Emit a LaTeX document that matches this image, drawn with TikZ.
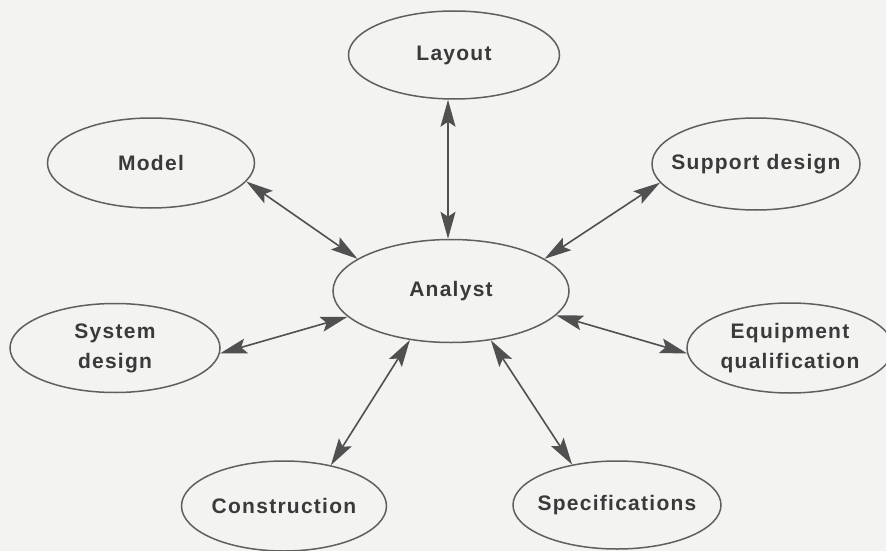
\documentclass[tikz,border=0pt]{standalone}
\usepackage{fontspec}
\setmainfont{Liberation Sans}[LetterSpace=6]
\usetikzlibrary{shapes.geometric,arrows.meta}
\definecolor{bgc}{RGB}{243,243,241}
\definecolor{edgec}{RGB}{95,95,95}
\definecolor{txtc}{RGB}{58,58,58}
\definecolor{arrc}{RGB}{80,80,80}
\tikzset{
  bubble/.style={ellipse, draw=edgec, line width=1.5pt, inner xsep=-30pt, inner ysep=0pt,
    text=txtc, align=center, font=\fontsize{21}{30}\selectfont\bfseries},
  link/.style={draw=arrc, line width=1.6pt,
    {Stealth[length=27pt,width=15pt,inset=5pt]}-{Stealth[length=27pt,width=15pt,inset=5pt]}}
}
\begin{document}
\begin{tikzpicture}[x=1pt,y=-1pt]
\fill[bgc] (0,0) rectangle (886,551);
\useasboundingbox (0,0) rectangle (886,551);
\node[bubble, minimum width=211pt, minimum height=88pt] (layout) at (454,55) {Layout};
\node[bubble, minimum width=207pt, minimum height=90pt] (model) at (151,163) {Model};
\node[bubble, minimum width=208pt, minimum height=92pt] (support) at (756,164) {Support design};
\node[bubble, minimum width=236pt, minimum height=103pt] (analyst) at (451,291) {Analyst};
\node[bubble, minimum width=210pt, minimum height=89pt] (system) at (115,348) {System\\design};
\node[bubble, minimum width=206pt, minimum height=90pt] (equip) at (790,348) {Equipment\\qualification};
\node[bubble, minimum width=205pt, minimum height=90pt] (constr) at (284,506) {Construction};
\node[bubble, minimum width=208pt, minimum height=88pt] (spec) at (617,505) {Specifications};

\coordinate (lt) at ([xshift=-6pt]layout.south);
\coordinate (at) at ([xshift=-3pt]analyst.north);
\path[link] (lt) -- (lt |- at);
\path[link] (model.-11) -- (analyst.161);
\path[link] (support.191) -- (analyst.19);
\path[link] (system.-3) -- (analyst.194);
\path[link] (constr.41) -- (analyst.230);
\path[link] (spec.138) -- (analyst.-51);
\path[link] (equip.183) -- (analyst.-13);
\end{tikzpicture}
\end{document}
